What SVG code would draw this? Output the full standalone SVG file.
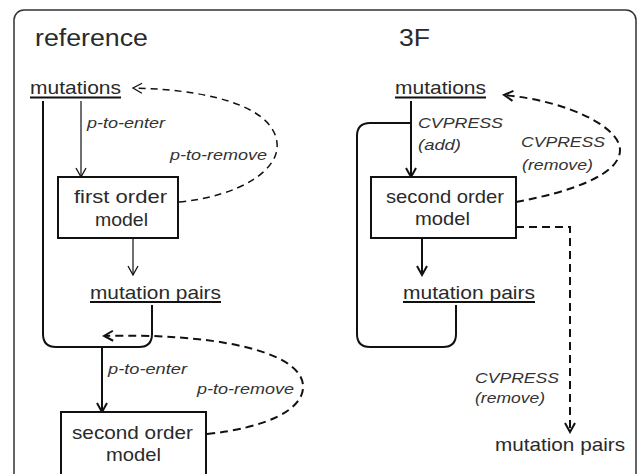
<svg xmlns="http://www.w3.org/2000/svg" width="638" height="474" viewBox="0 0 638 474">
<style>
text{font-family:"Liberation Sans",Arial,sans-serif;fill:#2a2a2a}
.title{font-size:23px}
.lbl{font-size:18.5px}
.it{font-size:15.5px;font-style:italic;fill:#333}
.box{fill:#fff;stroke:#111;stroke-width:2}
.ul{stroke:#111;stroke-width:2}
.c1{fill:none;stroke:#111;stroke-width:1.2}
.c2{fill:none;stroke:#111;stroke-width:2}
.d1{fill:none;stroke:#111;stroke-width:1.5;stroke-dasharray:7 5}
.d2{fill:none;stroke:#111;stroke-width:2;stroke-dasharray:8 5}
</style>
<defs>
<marker id="a1" markerUnits="userSpaceOnUse" markerWidth="14" markerHeight="14" refX="12" refY="6" orient="auto" viewBox="0 0 14 12">
<path d="M3,1 L12,6 L3,11" fill="none" stroke="#111" stroke-width="1.3"/>
</marker>
<marker id="a2" markerUnits="userSpaceOnUse" markerWidth="14" markerHeight="14" refX="12" refY="6" orient="auto" viewBox="0 0 14 12">
<path d="M3,1 L12,6 L3,11" fill="none" stroke="#111" stroke-width="2"/>
</marker>
</defs>
<rect x="0" y="0" width="638" height="474" fill="#fff"/>
<rect id="frame" x="14" y="10" width="622" height="490" rx="10" fill="none" stroke="#333" stroke-width="1.5"/>

<g id="connectors">
<path class="c2" d="M43,101 V334 Q43,347 56,347 H139 Q152,347 152,334 V305"/>
<line class="c1" x1="81" y1="101" x2="81" y2="177" marker-end="url(#a1)"/>
<line class="c1" x1="133" y1="238" x2="133" y2="275" marker-end="url(#a1)"/>
<path class="d1" d="M179,202 C240,196 280,170 277,143 C274,110 220,90 133,88" marker-end="url(#a1)"/>
<line class="c2" x1="102" y1="348" x2="102" y2="412" marker-end="url(#a2)"/>
<path class="d2" d="M207,434 C265,428 305,410 303,385 C300,350 210,333 104,336" marker-end="url(#a2)"/>

<line class="c2" x1="411" y1="101" x2="411" y2="177" marker-end="url(#a2)"/>
<path class="c2" d="M411,123 H370 Q357,123 357,136 V334 Q357,347 370,347 H443 Q456,347 456,334 V305"/>
<line class="c2" x1="422" y1="238" x2="422" y2="275" marker-end="url(#a2)"/>
<path class="d2" d="M516,202 C570,192 620,175 620,150 C620,127 568,101 504,95" marker-end="url(#a2)"/>
<path class="d2" d="M516,227 H570 V432" marker-end="url(#a2)"/>
</g>

<g id="ref-title"><text class="title" x="35" y="46" textLength="113" lengthAdjust="spacingAndGlyphs">reference</text></g>
<g id="ref-mutations">
<text class="lbl" x="30" y="94" textLength="91" lengthAdjust="spacingAndGlyphs">mutations</text>
<line class="ul" x1="30" y1="97.5" x2="121" y2="97.5"/>
</g>
<g id="ref-first-order">
<rect class="box" x="58" y="177" width="120" height="61"/>
<text class="lbl" x="74" y="203" textLength="93" lengthAdjust="spacingAndGlyphs">first order</text>
<text class="lbl" x="95" y="226" textLength="53" lengthAdjust="spacingAndGlyphs">model</text>
</g>
<g id="ref-pairs">
<text class="lbl" x="90" y="299" textLength="131" lengthAdjust="spacingAndGlyphs">mutation pairs</text>
<line class="ul" x1="90" y1="302" x2="221" y2="302"/>
</g>
<g id="ref-second-order">
<rect class="box" x="61" y="412" width="145" height="70"/>
<text class="lbl" x="72" y="439" textLength="121" lengthAdjust="spacingAndGlyphs">second order</text>
<text class="lbl" x="106" y="461" textLength="55" lengthAdjust="spacingAndGlyphs">model</text>
</g>
<g id="ref-labels">
<text class="it" x="87" y="128" textLength="78" lengthAdjust="spacingAndGlyphs">p-to-enter</text>
<text class="it" x="170" y="160" textLength="97" lengthAdjust="spacingAndGlyphs">p-to-remove</text>
<text class="it" x="108" y="374" textLength="79" lengthAdjust="spacingAndGlyphs">p-to-enter</text>
<text class="it" x="197" y="394" textLength="97" lengthAdjust="spacingAndGlyphs">p-to-remove</text>
</g>

<g id="f3-title"><text class="title" x="399" y="46" textLength="31" lengthAdjust="spacingAndGlyphs">3F</text></g>
<g id="f3-mutations">
<text class="lbl" x="395" y="94" textLength="91" lengthAdjust="spacingAndGlyphs">mutations</text>
<line class="ul" x1="395" y1="97.5" x2="486" y2="97.5"/>
</g>
<g id="f3-second-order">
<rect class="box" x="371" y="177" width="145" height="61"/>
<text class="lbl" x="386" y="203" textLength="118" lengthAdjust="spacingAndGlyphs">second order</text>
<text class="lbl" x="415" y="225" textLength="55" lengthAdjust="spacingAndGlyphs">model</text>
</g>
<g id="f3-pairs">
<text class="lbl" x="403" y="299" textLength="132" lengthAdjust="spacingAndGlyphs">mutation pairs</text>
<line class="ul" x1="403" y1="302" x2="535" y2="302"/>
</g>
<g id="f3-pairs-out">
<text class="lbl" x="495" y="451" textLength="130" lengthAdjust="spacingAndGlyphs">mutation pairs</text>
</g>
<g id="f3-labels">
<text class="it" x="418" y="128" textLength="85" lengthAdjust="spacingAndGlyphs">CVPRESS</text>
<text class="it" x="418" y="150" textLength="43" lengthAdjust="spacingAndGlyphs">(add)</text>
<text class="it" x="521" y="147" textLength="84" lengthAdjust="spacingAndGlyphs">CVPRESS</text>
<text class="it" x="522" y="170" textLength="71" lengthAdjust="spacingAndGlyphs">(remove)</text>
<text class="it" x="475" y="383" textLength="84" lengthAdjust="spacingAndGlyphs">CVPRESS</text>
<text class="it" x="475" y="403" textLength="70" lengthAdjust="spacingAndGlyphs">(remove)</text>
</g>
</svg>
